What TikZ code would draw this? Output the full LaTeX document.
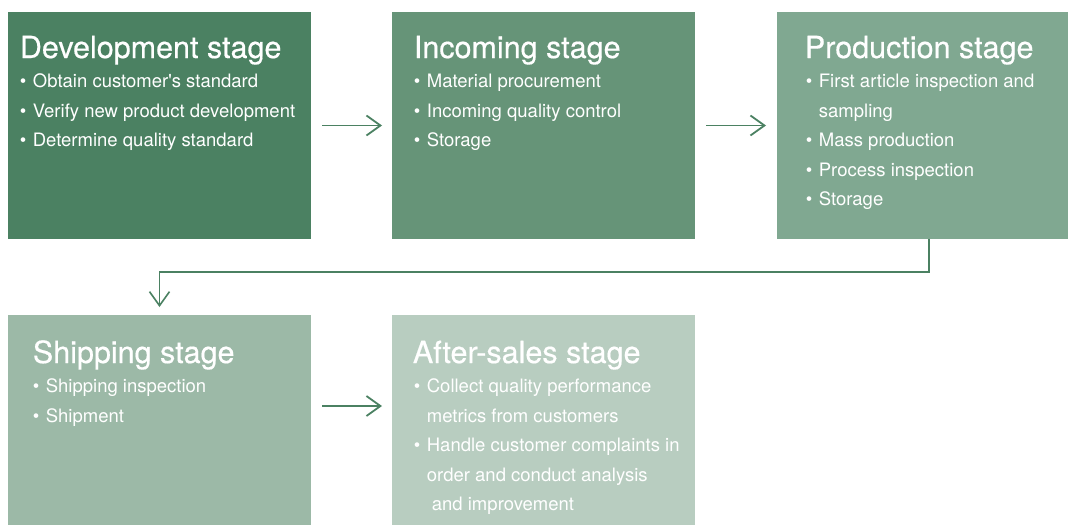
\documentclass[tikz,border=0pt]{standalone}
\usepackage{fontspec}
\setmainfont{TeX Gyre Heros}
\newfontfamily\headfont[FakeBold=0.5]{TeX Gyre Heros}
\usetikzlibrary{
	arrows.meta,
	calc,
	positioning
}
\definecolor{stageA}{HTML}{4B8162}
\definecolor{stageB}{HTML}{669478}
\definecolor{stageC}{HTML}{80A891}
\definecolor{stageD}{HTML}{9CB9A7}
\definecolor{stageE}{HTML}{B8CDC0}
\tikzset{every path/.append style={line width=1.8pt}}
\tikzset{
	stagebox/.style={rectangle,anchor=north west,inner sep=0,outer sep=0},
	stagetitle/.style={anchor=base west,inner sep=0,text=white,font=\headfont\fontsize{30.5}{30.5}\selectfont},
	stagelist/.style={anchor=north west,inner sep=0,text=white,align=left,font=\fontsize{18.5}{29.5}\selectfont},
	flow/.style={-{Straight Barb[length=14pt,width=20pt]},draw=stageA,shorten <=11pt,shorten >=10pt}
}
\newcommand{\tikzStage}[5]{\node (#1) at #2 [stagebox,fill=#3,minimum width=#4,minimum height=#5]{};}
\newcommand{\itm}{•\hspace{6.5pt}}
\newcommand{\ind}{\phantom{\itm}}

\begin{document}
\begin{tikzpicture}[x=1pt,y=-1pt]
	\useasboundingbox (0,0) rectangle (1068,525);

	\tikzStage{dev}{(8,12)}{stageA}{303pt}{227pt}
	\tikzStage{inc}{(392,12)}{stageB}{303pt}{227pt}
	\tikzStage{prod}{(777,12)}{stageC}{291pt}{227pt}
	\tikzStage{ship}{(8,315)}{stageD}{303pt}{210pt}
	\tikzStage{after}{(392,315)}{stageE}{303pt}{210pt}

	\node (devtitle) at (19,58) [stagetitle] {Development stage};
	\node (devlist) at (19,66.35) [stagelist] {\strut\itm Obtain customer\textquotesingle s standard\\
		\itm Verify new product development\\
		\itm Determine quality standard};

	\node (inctitle) at (413,58) [stagetitle] {Incoming stage};
	\node (inclist) at (413,66.35) [stagelist] {\strut\itm Material procurement\\
		\itm Incoming quality control\\
		\itm Storage};

	\node (prodtitle) at (804,58) [stagetitle] {Production stage};
	\node (prodlist) at (805,66.35) [stagelist] {\strut\itm First article inspection and\\
		\ind sampling\\
		\itm Mass production\\
		\itm Process inspection\\
		\itm Storage};

	\node (shiptitle) at (32,363) [stagetitle] {Shipping stage};
	\node (shiplist) at (32,371.35) [stagelist] {\strut\itm Shipping inspection\\
		\itm Shipment};

	\node (aftertitle) at (412,363) [stagetitle] {After-sales stage};
	\node (afterlist) at (413,371.35) [stagelist] {\strut\itm Collect quality performance\\
		\ind metrics from customers\\
		\itm Handle customer complaints in\\
		\ind order and conduct analysis\\
		\ind\hspace{5pt}and improvement};

	\coordinate (bend) at (929,272);

	\draw[flow] (dev) -- (inc);
	\draw[flow,shorten >=11pt] (inc) -- (prod);
	\draw[flow,shorten <=0pt,shorten >=8pt,line width=1.6pt] (prod.south -| bend) -- (bend) -| (ship.north);
	\draw[flow] ([yshift=14pt]ship.east) -- ([yshift=14pt]after.west);
\end{tikzpicture}
\end{document}
